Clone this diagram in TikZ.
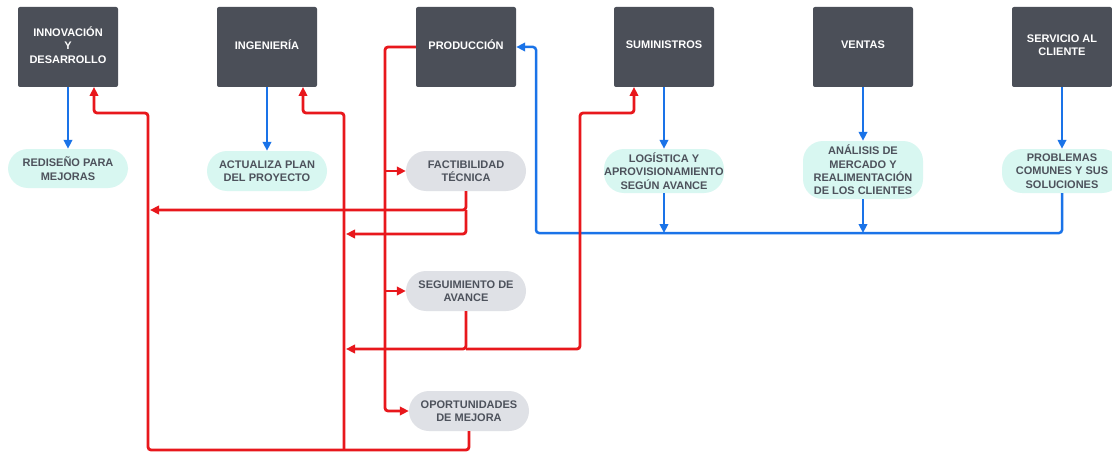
\documentclass[tikz,border=0pt]{standalone}
\usepackage{fontspec}
\setmainfont{Liberation Sans}
\usetikzlibrary{arrows.meta}
\definecolor{boxdark}{HTML}{4B4F58}
\definecolor{tealfill}{HTML}{D8F7F1}
\definecolor{grayfill}{HTML}{DFE1E6}
\definecolor{pilltext}{HTML}{4D525C}
\definecolor{flowred}{HTML}{E8171C}
\definecolor{flowblue}{HTML}{1A73E8}
\tikzset{
  dept/.style={fill=boxdark, draw=none, rounded corners=2pt, minimum width=100pt,
    minimum height=80pt, inner sep=0pt, align=center, text=white, text depth=4pt,
    font=\fontsize{11}{13.5}\selectfont\bfseries},
  pill/.style={draw=none, rounded corners=20pt, minimum width=120pt, inner sep=0pt,
    align=center, text=pilltext, font=\fontsize{11}{13.4}\selectfont\bfseries},
  tealpill/.style={pill, fill=tealfill},
  graypill/.style={pill, fill=grayfill},
  redline/.style={draw=flowred, line width=2.8pt, rounded corners=3pt},
  blueline/.style={draw=flowblue, line width=2.5pt, rounded corners=3pt},
  tip/.style={-{Triangle[length=9pt,width=8.5pt]}}
}
\begin{document}
\begin{tikzpicture}[x=1pt,y=-1pt]
\fill[white] (0,0) rectangle (1112,452);
\useasboundingbox (0,0) rectangle (1112,452);

% departments
\node[dept] (innov) at (68,47) {INNOVACIÓN\\Y\\DESARROLLO};
\node[dept] (ingen) at (267,47) {INGENIERÍA};
\node[dept] (prod) at (466,47) {PRODUCCIÓN};
\node[dept] (sumin) at (664,47) {SUMINISTROS};
\node[dept] (ventas) at (863,47) {VENTAS};
\node[dept] (servicio) at (1062,47) {SERVICIO AL\\CLIENTE};

% department outputs
\node[tealpill, minimum height=39pt] (redis) at (68,168.5) {REDISEÑO PARA\\MEJORAS};
\node[tealpill, minimum height=40pt] (actual) at (267,171) {ACTUALIZA PLAN\\DEL PROYECTO};
\node[tealpill, minimum height=44pt] (logis) at (664,171) {LOGÍSTICA Y\\APROVISIONAMIENTO\\SEGÚN AVANCE};
\node[tealpill, minimum height=58pt] (analisis) at (863,170) {ANÁLISIS DE\\MERCADO Y\\REALIMENTACIÓN\\DE LOS CLIENTES};
\node[tealpill, minimum height=44pt] (problemas) at (1062,171) {PROBLEMAS\\COMUNES Y SUS\\SOLUCIONES};

% production stages
\node[graypill, minimum height=40pt] (factib) at (466,171) {FACTIBILIDAD\\TÉCNICA};
\node[graypill, minimum height=40pt] (seguim) at (466,291) {SEGUIMIENTO DE\\AVANCE};
\node[graypill, minimum height=40pt] (oportun) at (469,411) {OPORTUNIDADES\\DE MEJORA};

% helper points
\coordinate (bus) at (536,233);
\coordinate (prodrail) at (385,47);
\coordinate (innovrail) at (148,113);
\coordinate (ingenrail) at (344,113);
\coordinate (suminrail) at (580,113);
\coordinate (bottomrail) at (469,450);
\coordinate (factibA) at (466,210);
\coordinate (factibB) at (466,234);
\coordinate (seguimA) at (466,349);

% blue: departments to outputs
\draw[blueline, tip] (innov.south) -- (redis.north);
\draw[blueline, tip] (ingen.south) -- (actual.north);
\draw[blueline, tip] (sumin.south) -- (logis.north);
\draw[blueline, tip] (ventas.south) -- (analisis.north);
\draw[blueline, tip] (servicio.south) -- (problemas.north);

% blue: feedback to production
\draw[blueline, tip] (problemas.south) |- (bus) |- (prod.east);
\draw[blueline, tip] (logis.south) -- (logis.south |- bus);
\draw[blueline, tip] (analisis.south) -- (analisis.south |- bus);

% red: production to its stages
\draw[redline, tip] (prod.west) -| (prodrail |- oportun.west) -- (oportun.west);
\draw[redline, tip] (prodrail |- factib.west) -- (factib.west);
\draw[redline, tip] (prodrail |- seguim.west) -- (seguim.west);

% red: technical feasibility
\draw[redline, tip] (factib.south) -- (factibA) -- (150,210);
\draw[redline, tip] (factibA) -- (factibB) -- (346,234);

% red: progress tracking
\draw[redline, tip] (seguim.south) -- (seguimA) -- (346,349);
\draw[redline, tip] (seguimA) -| (suminrail) -| (634,87);

% red: improvement opportunities
\draw[redline, tip] (oportun.south) -- (bottomrail) -| (innovrail) -| (94,87);
\draw[redline, tip] (344,450) -- (ingenrail) -| (303,87);
\end{tikzpicture}
\end{document}
